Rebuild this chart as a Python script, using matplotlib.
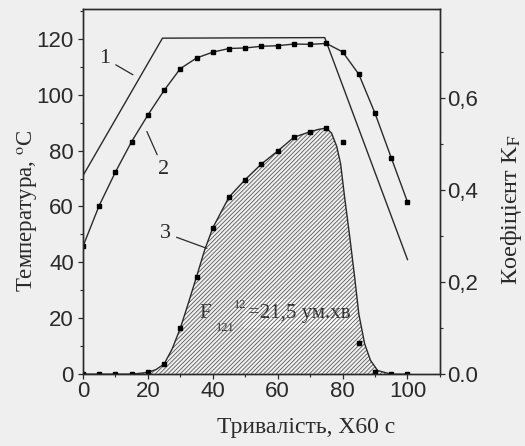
import matplotlib
matplotlib.use("Agg")
import matplotlib.pyplot as plt
from matplotlib.ticker import MultipleLocator, FixedLocator, FixedFormatter

plt.rcParams['mathtext.fontset'] = 'stix'
plt.rcParams['hatch.linewidth'] = 0.6

# ---- data ----
time_pts = [0, 5, 10, 15, 20, 25, 30, 35, 40, 45, 50, 55, 60, 65, 70, 75, 80, 85, 90, 95, 100]
temp_product = [45.7, 60.3, 72.3, 83.2, 92.7, 101.5, 109.3, 113.1, 115.2, 116.5, 116.7, 117.3,
                117.5, 118.1, 118.0, 118.3, 115.3, 107.3, 93.3, 77.4, 61.6]
kf_pts = [0, 0, 0, 0, 0.004, 0.022, 0.10, 0.212, 0.318, 0.385, 0.423, 0.457, 0.485, 0.515,
          0.527, 0.535, 0.504, 0.068, 0.004, 0, 0]

medium_x = [0, 24.5, 74.5, 100]
medium_y = [71, 120.2, 120.4, 41]

kf_line_x = [0, 5, 10, 15, 20, 22.5, 25, 27.5, 30, 32.5, 35, 37.5, 40, 45, 50, 55, 60, 65, 70, 72.5,
             75, 76.6, 78.2, 79.4, 80.6, 82.2, 83.7, 85, 86.8, 88.6, 90.8, 95, 100]
kf_line_y = [0, 0, 0, 0, 0.004, 0.01, 0.022, 0.055, 0.10, 0.155, 0.212, 0.27, 0.318, 0.385, 0.423,
             0.457, 0.485, 0.515, 0.527, 0.532, 0.535, 0.524, 0.495, 0.457, 0.386, 0.299, 0.212,
             0.131, 0.066, 0.03, 0.008, 0, 0]

x_ticks = [0, 20, 40, 60, 80, 100]
left_ticks = [0, 20, 40, 60, 80, 100, 120]
right_ticks = [0.0, 0.2, 0.4, 0.6]
right_labels = ["0.0", "0,2", "0,4", "0,6"]

bg = '#efefef'
ink = '#2a2a2a'

fig = plt.figure(figsize=(5.25, 4.46), dpi=100, facecolor=bg)
ax1 = fig.add_axes([0.158, 0.161, 0.680, 0.818])
ax1.set_facecolor(bg)
ax2 = ax1.twinx()

ax1.set_xlim(0, 110)
ax1.set_ylim(0, 130.5)
ax2.set_ylim(0, 0.793)

# curve 1 and 2
ax1.plot(medium_x, medium_y, color=ink, lw=1.0)
ax1.plot(time_pts, temp_product, color=ink, lw=1.0, marker='s', ms=2.7, mfc='black', mec='black')

# curve 3 with hatched area
ax2.fill_between(kf_line_x, kf_line_y, 0, facecolor='none', edgecolor='#5a5a5a',
                 hatch='////////', linewidth=0)
ax2.plot(kf_line_x, kf_line_y, color=ink, lw=1.0)
ax2.plot(time_pts, kf_pts, ls='none', marker='s', ms=2.7, mfc='black', mec='black')

# ticks
ax1.xaxis.set_major_locator(FixedLocator(x_ticks))
ax1.xaxis.set_minor_locator(MultipleLocator(10))
ax1.yaxis.set_major_locator(FixedLocator(left_ticks))
ax1.yaxis.set_minor_locator(MultipleLocator(10))
ax2.yaxis.set_major_locator(FixedLocator(right_ticks))
ax2.yaxis.set_major_formatter(FixedFormatter(right_labels))
ax2.yaxis.set_minor_locator(MultipleLocator(0.1))

for ax in (ax1, ax2):
    ax.tick_params(which='major', direction='out', length=3.5, width=0.9, color=ink,
                   labelcolor=ink, labelsize=16)
    ax.tick_params(which='minor', direction='out', length=2, width=0.8, color=ink)
    for s in ax.spines.values():
        s.set_color(ink)
        s.set_linewidth(1.0)
ax1.tick_params(axis='x', pad=1.5)
ax1.tick_params(axis='y', pad=3)
ax2.tick_params(axis='y', pad=2)
for lab in ax1.get_xticklabels() + ax1.get_yticklabels() + ax2.get_yticklabels():
    lab.set_fontfamily('Liberation Sans')

serif = 'Liberation Serif'
ax1.set_xlabel('Тривалість, Х60 с', family=serif, size=17, color=ink, labelpad=10.5)
ax1.xaxis.label.set_x(0.625)
ax1.set_ylabel('Температура, $^{\\mathrm{o}}$C', family=serif, size=16.5, color=ink, labelpad=-2.5)
ax1.yaxis.label.set_y(0.447)
ax2.set_ylabel('Коефіцієнт K$_{\\mathrm{F}}$', family=serif, size=17.5, color=ink, labelpad=15)
ax2.yaxis.label.set_y(0.45)

# curve labels
arrow = dict(arrowstyle='-', color=ink, lw=0.9, shrinkA=2, shrinkB=0)
ax1.annotate('1', xy=(15.4, 107.1), xytext=(6.8, 112.9), ha='center', va='center',
             family=serif, size=16, color=ink, arrowprops=arrow)
ax1.annotate('2', xy=(19.7, 86.8), xytext=(24.9, 73.2), ha='center', va='center',
             family=serif, size=16, color=ink, arrowprops=arrow)
ax1.annotate('3', xy=(38.2, 45.0), xytext=(25.5, 50.4), ha='center', va='center',
             family=serif, size=16, color=ink, arrowprops=arrow)

# integral annotation: F with subscript 121 and superscript 12
ax1.text(50.8, 20.2, '=21,5 ум.хв', family=serif, size=15, color=ink, ha='left', va='baseline',
         bbox=dict(boxstyle='square,pad=0.25', facecolor='#fbfbfb', edgecolor='none'))
ax1.text(36.0, 20.2, 'F', family=serif, size=15, color=ink, ha='left', va='baseline')
ax1.text(40.9, 15.3, '121', family=serif, size=9, color=ink, ha='left', va='baseline')
ax1.text(46.6, 23.8, '12', family=serif, size=9, color=ink, ha='left', va='baseline')

fig.savefig('out.png', dpi=100, facecolor=bg)
